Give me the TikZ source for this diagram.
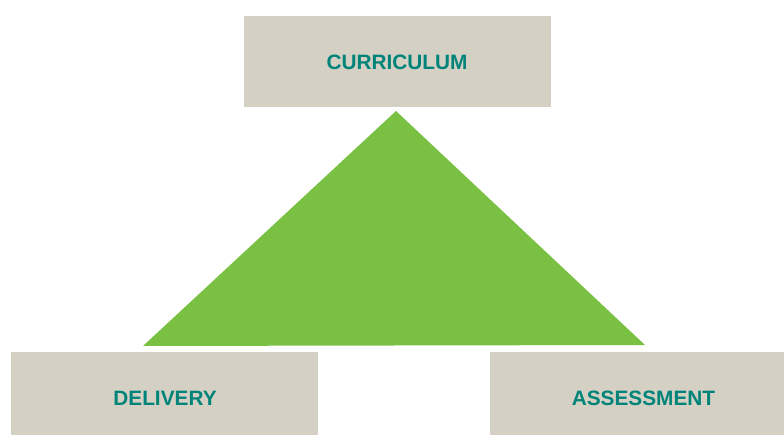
\documentclass[tikz,border=0pt]{standalone}
\usepackage{fontspec}
\setmainfont{Liberation Sans}
\definecolor{boxgray}{HTML}{D4D0C4}
\definecolor{teal}{HTML}{00847A}
\definecolor{leaf}{HTML}{7AC143}
\begin{document}
\begin{tikzpicture}[x=1pt,y=-1pt,
  box/.style={fill=boxgray,draw=none},
  lbl/.style={text=teal,font=\fontsize{20.8}{24}\selectfont\bfseries,inner sep=0pt,anchor=center}]
\useasboundingbox (0,0) rectangle (784,435);
\fill[box] (244,16) rectangle (551,107);
\fill[box] (11,352) rectangle (318,435);
\fill[box] (490,352) rectangle (784,435);
\fill[leaf] (396,111) -- (645,345) -- (143,346) -- cycle;
\node[lbl] (cur) at (397,62.5) {CURRICULUM};
\node[lbl] (del) at (165,398.5) {DELIVERY};
\node[lbl] (ass) at (643.5,398.5) {ASSESSMENT};
\end{tikzpicture}
\end{document}
